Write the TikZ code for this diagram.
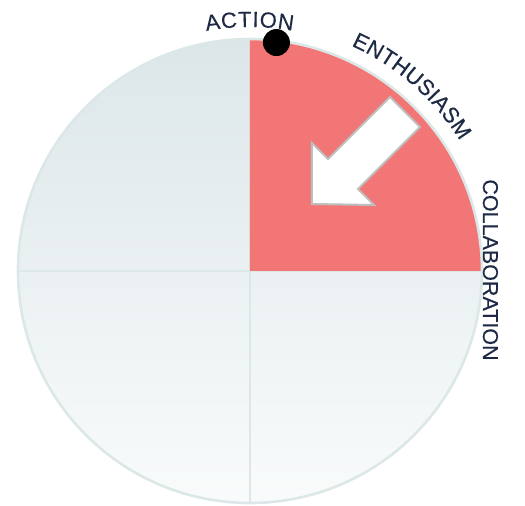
\documentclass[tikz,border=0pt]{standalone}
\usepackage{fontspec}
\usetikzlibrary{decorations.text}
\newfontfamily\lblfont[FakeBold=0.3]{Liberation Sans}
\definecolor{navy}{HTML}{1E2A45}
\definecolor{quadred}{HTML}{F37677}
\definecolor{rimcol}{HTML}{DCE7E8}
\definecolor{topgray}{HTML}{DCE6E9}
\definecolor{botgray}{HTML}{F9FBFB}
\definecolor{arrowedge}{HTML}{BEBEBE}
\tikzset{
  rim/.style={draw=rimcol, line width=2.6pt},
  divider/.style={draw=rimcol, line width=1.6pt},
  curvedlabel/.style={decorate, decoration={text along path, text align={fit to path}, text color=navy}},
  arrowshape/.style={fill=white, draw=arrowedge, line width=2pt, line join=miter},
}
\begin{document}
\begin{tikzpicture}[x=1pt,y=1pt]
\useasboundingbox (-250,-235) rectangle (275,271);
% background disc with gradient
\shade[top color=topgray, bottom color=botgray] (0,0) circle (232);
% quadrant dividers
\coordinate (top) at (0,232);
\coordinate (bottom) at (0,-232);
\coordinate (left) at (-232,0);
\coordinate (right) at (232,0);
\draw[divider] (top) -- (bottom);
\draw[divider] (left) -- (right);
% red quadrant
\fill[quadred] (0,0) -- (top) arc[start angle=90, end angle=0, radius=232] -- cycle;
% rim
\draw[rim] (0,0) circle (232);
% marker dot
\fill[black] (83.4:230) circle (13.5);
% arrow
\coordinate (tip) at (62,67);
\draw[arrowshape] (tip) -- ++(0,61) -- ++(16,-16) -- ++(62,62) -- ++(30,-30)
  -- ++(-62,-62) -- ++(16,-16) -- cycle;
% labels
\path[curvedlabel, decoration={text={|\lblfont\fontsize{22}{26}\selectfont|ACTION}}]
  (100.3:244) arc[start angle=100.3, end angle=79.9, radius=244];
\path[curvedlabel, decoration={text={|\lblfont\fontsize{22}{26}\selectfont|ENTHUSIASM}}]
  (65.8:247) arc[start angle=65.8, end angle=31.8, radius=247];
\node[rotate=-90, anchor=base, inner sep=0pt, text=navy, font=\lblfont\fontsize{21.5}{26}\selectfont]
  (collab) at (233,1) {COLLABORATION};
\end{tikzpicture}
\end{document}
